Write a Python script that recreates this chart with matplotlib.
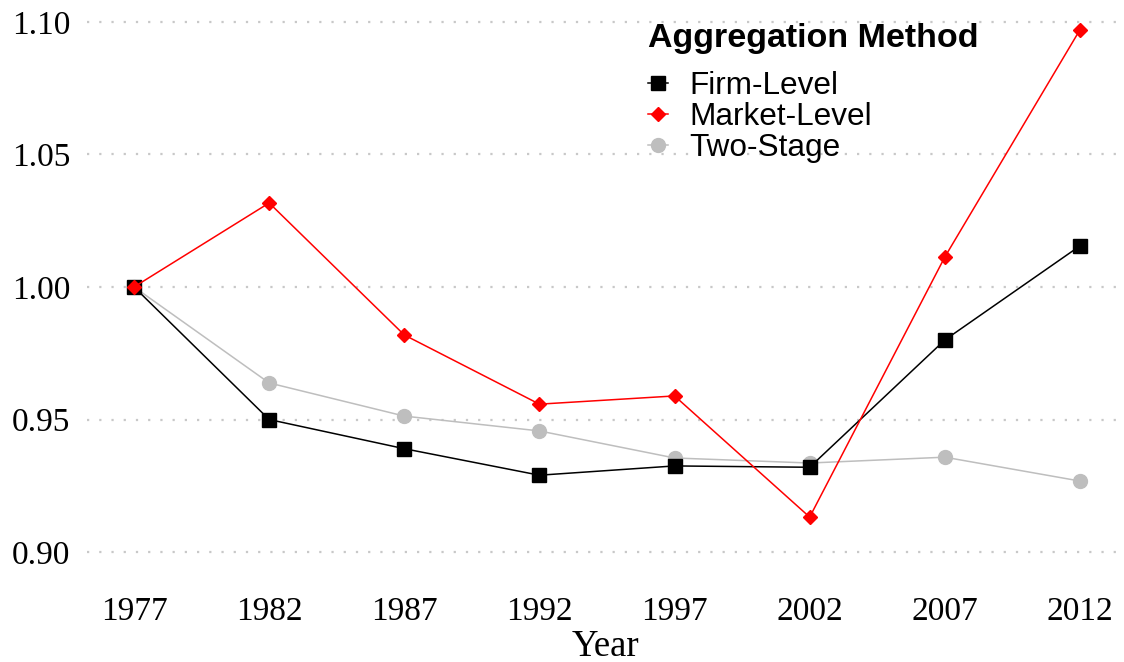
import matplotlib.pyplot as plt
from matplotlib.lines import Line2D

years = [1977, 1982, 1987, 1992, 1997, 2002, 2007, 2012]
firm_level = [1.000, 0.950, 0.939, 0.929, 0.9325, 0.932, 0.980, 1.0155]
market_level = [1.000, 1.0317, 0.9819, 0.9558, 0.9589, 0.9132, 1.0113, 1.097]
two_stage = [1.000, 0.9638, 0.9513, 0.9457, 0.9355, 0.9336, 0.9358, 0.9268]
y_ticks = [0.90, 0.95, 1.00, 1.05, 1.10]
y_tick_labels = ["0.90", "0.95", "1.00", "1.05", "1.10"]
series_names = ["Firm-Level", "Market-Level", "Two-Stage"]

fig = plt.figure(figsize=(11.24, 6.62), dpi=100)
ax = fig.add_axes([0.0774, 0.150, 0.9226, 0.833])

ax.plot(years, two_stage, color="#BEBEBE", lw=1.1, marker="o", ms=10, zorder=2)
ax.plot(years, firm_level, color="black", lw=1.1, marker="s", ms=10, zorder=3)
ax.plot(years, market_level, color="#FF0000", lw=1.1, marker="D", ms=7, zorder=4)

ax.set_xlim(1975.26, 2013.63)
ax.set_ylim(0.896, 1.104)
ax.set_xticks(years)
ax.set_xticklabels([str(y) for y in years])
ax.set_yticks(y_ticks)
ax.set_yticklabels(y_tick_labels)
for lab in ax.get_xticklabels() + ax.get_yticklabels():
    lab.set_family("Liberation Serif")
    lab.set_fontsize(24)
ax.tick_params(length=0)
ax.tick_params(axis="y", pad=12)
ax.tick_params(axis="x", pad=24)
ax.set_xlabel("Year", family="Liberation Serif", fontsize=26.5, labelpad=2)

for s in ax.spines.values():
    s.set_visible(False)
ax.yaxis.grid(True, color="#C8C8C8", linestyle=(0, (1, 4.5)), linewidth=1.6)
ax.set_axisbelow(True)

# legend: title drawn separately so the gap below it can match
fig.text(648 / 1124, 1 - 39 / 662, "Aggregation Method", family="Liberation Sans",
         fontsize=24.5, weight="bold", ha="left", va="center")
handles = [
    Line2D([], [], color="black", lw=1.1, marker="s", ms=10),
    Line2D([], [], color="#FF0000", lw=1.1, marker="D", ms=7),
    Line2D([], [], color="#BEBEBE", lw=1.1, marker="o", ms=10),
]
ax.legend(handles, series_names, loc="upper left",
          bbox_to_anchor=(648 / 1124, 1 - 71 / 662), bbox_transform=fig.transFigure,
          frameon=False, handlelength=0.65, handletextpad=0.65, labelspacing=0.03,
          prop={"family": "Liberation Sans", "size": 22.7}, borderpad=0,
          borderaxespad=0)

fig.savefig("out.png", dpi=100)
